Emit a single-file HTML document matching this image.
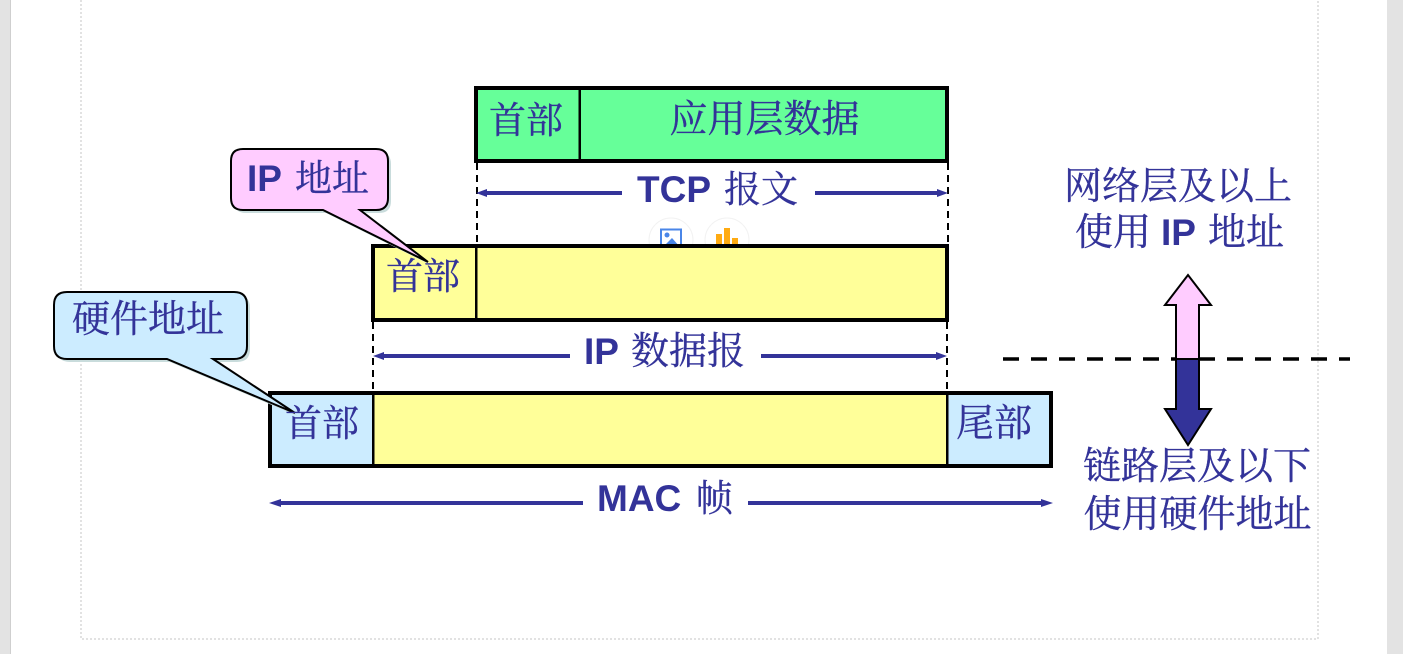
<!DOCTYPE html>
<html><head><meta charset="utf-8">
<style>
html,body{margin:0;padding:0;background:#fff;width:1403px;height:654px;overflow:hidden}
svg{display:block}
.c{font-family:"Noto Serif CJK SC","Liberation Serif",serif;font-size:37px;fill:#333399;stroke:#333399;stroke-width:.35px}
.l{font-family:"Liberation Sans",sans-serif;font-weight:bold;font-size:37px;fill:#333399}
</style></head><body>
<svg width="1403" height="654" viewBox="0 0 1403 654" xmlns="http://www.w3.org/2000/svg">
<!-- page frame -->
<rect x="0" y="0" width="1403" height="654" fill="#fff"/>
<rect x="0" y="0" width="10" height="654" fill="#e3e3e3"/>
<rect x="10" y="0" width="1" height="654" fill="#cfcfcf"/>
<rect x="1387" y="0" width="16" height="654" fill="#e3e3e3"/>
<path d="M81 0V639H1318V0" fill="none" stroke="#c4c4c4" stroke-width="1" stroke-dasharray="2 2"/>

<!-- floating icons -->
<circle cx="671" cy="240" r="22" fill="#fff" stroke="#f2f2f2" stroke-width="1"/>
<circle cx="727" cy="240" r="22" fill="#fff" stroke="#f2f2f2" stroke-width="1"/>
<rect x="661" y="229.500" width="20" height="20" fill="none" stroke="#4a86e8" stroke-width="2"/>
<circle cx="667" cy="235" r="2.500" fill="#4a86e8"/>
<path d="M663 247L672 238L680 247Z" fill="#4a86e8"/>
<rect x="716" y="234" width="6" height="12" fill="#ffab12"/>
<rect x="724" y="228" width="6" height="18" fill="#ffab12"/>
<rect x="732" y="238" width="6" height="8" fill="#ffab12"/>

<!-- dashed guides -->
<g stroke="#000" stroke-width="2" stroke-dasharray="7 5" fill="none">
<path d="M477 163V244"/>
<path d="M948 163V244"/>
<path d="M373 322V391"/>
<path d="M947 322V391"/>
</g>

<!-- TCP box -->
<rect x="476" y="88" width="471" height="73" fill="#66FF99" stroke="#000" stroke-width="4"/>
<rect x="578.500" y="88" width="2.500" height="73" fill="#000"/>
<!-- IP box -->
<rect x="373" y="246" width="574" height="74" fill="#FFFF99" stroke="#000" stroke-width="4"/>
<rect x="475" y="246" width="2.500" height="74" fill="#000"/>
<!-- MAC box -->
<rect x="270" y="393" width="781" height="73" fill="#CCECFF" stroke="#000" stroke-width="4"/>
<rect x="373" y="395" width="574" height="69" fill="#FFFF99"/>
<rect x="372" y="393" width="2.500" height="73" fill="#000"/>
<rect x="946" y="393" width="2.500" height="73" fill="#000"/>

<!-- horizontal arrows -->
<g stroke="#333399" stroke-width="4" fill="none">
<path d="M484 193H622"/><path d="M815 193H940"/>
<path d="M381 356H570"/><path d="M761 356H939"/>
<path d="M277 503H583"/><path d="M748 503H1044"/>
</g>
<g fill="#333399">
<path d="M476 193L487 189V197Z"/><path d="M948 193L937 189V197Z"/>
<path d="M373 356L384 352V360Z"/><path d="M947 356L936 352V360Z"/>
<path d="M269 503L281 499V507Z"/><path d="M1053 503L1041 499V507Z"/>
</g>

<!-- callout IP -->
<path d="M243 149H376Q388 149 388 161V198Q388 210 376 210H360L428 262L323 210H243Q231 210 231 198V161Q231 149 243 149Z" fill="#c9dcdc" transform="translate(3 3)"/>
<path d="M243 149H376Q388 149 388 161V198Q388 210 376 210H360L428 262L323 210H243Q231 210 231 198V161Q231 149 243 149Z" fill="#FFCCFF" stroke="#000" stroke-width="2"/>
<!-- callout HW -->
<path d="M67 292H234Q247 292 247 305V346Q247 359 234 359H213L295 413L167 359H67Q54 359 54 346V305Q54 292 67 292Z" fill="#c9dcdc" transform="translate(3 3)"/>
<path d="M67 292H234Q247 292 247 305V346Q247 359 234 359H213L295 413L167 359H67Q54 359 54 346V305Q54 292 67 292Z" fill="#CCECFF" stroke="#000" stroke-width="2"/>

<!-- layer line and double arrow -->
<path d="M1003 359H1350" stroke="#000" stroke-width="3.500" stroke-dasharray="16 12" fill="none"/>
<path d="M1176 359V305H1165L1188 275L1211 305H1199V359Z" fill="#FFCCFF" stroke="#000" stroke-width="2"/>
<path d="M1176 359V409H1165L1188 445L1211 409H1199V359Z" fill="#333399" stroke="#000" stroke-width="2"/>

<!-- labels -->
<text class="c" x="489" y="133">首部</text>
<text class="c" x="669.500" y="132" style="font-size:38px">应用层数据</text>
<text class="l" x="637" y="202">TCP</text><text class="c" x="724" y="202">报文</text>
<text class="l" x="247" y="191">IP</text><text class="c" x="295" y="191">地址</text>
<text class="c" x="386" y="289">首部</text>
<text class="c" x="72" y="332" style="font-size:38px">硬件地址</text>
<text class="l" x="584" y="364">IP</text><text class="c" x="631" y="364" style="font-size:38px">数据报</text>
<text class="c" x="285" y="436">首部</text>
<text class="c" x="956" y="436" style="font-size:38px">尾部</text>
<text class="l" x="597" y="511">MAC</text><text class="c" x="696" y="511">帧</text>
<text class="c" x="1064" y="199" style="font-size:38px">网络层及以上</text>
<text class="c" x="1075" y="245" style="font-size:38px">使用</text><text class="l" x="1161" y="245">IP</text><text class="c" x="1208" y="245" style="font-size:38px">地址</text>
<text class="c" x="1083" y="479" style="font-size:38px">链路层及以下</text>
<text class="c" x="1083.500" y="527" style="font-size:38px">使用硬件地址</text>
</svg>
</body></html>
